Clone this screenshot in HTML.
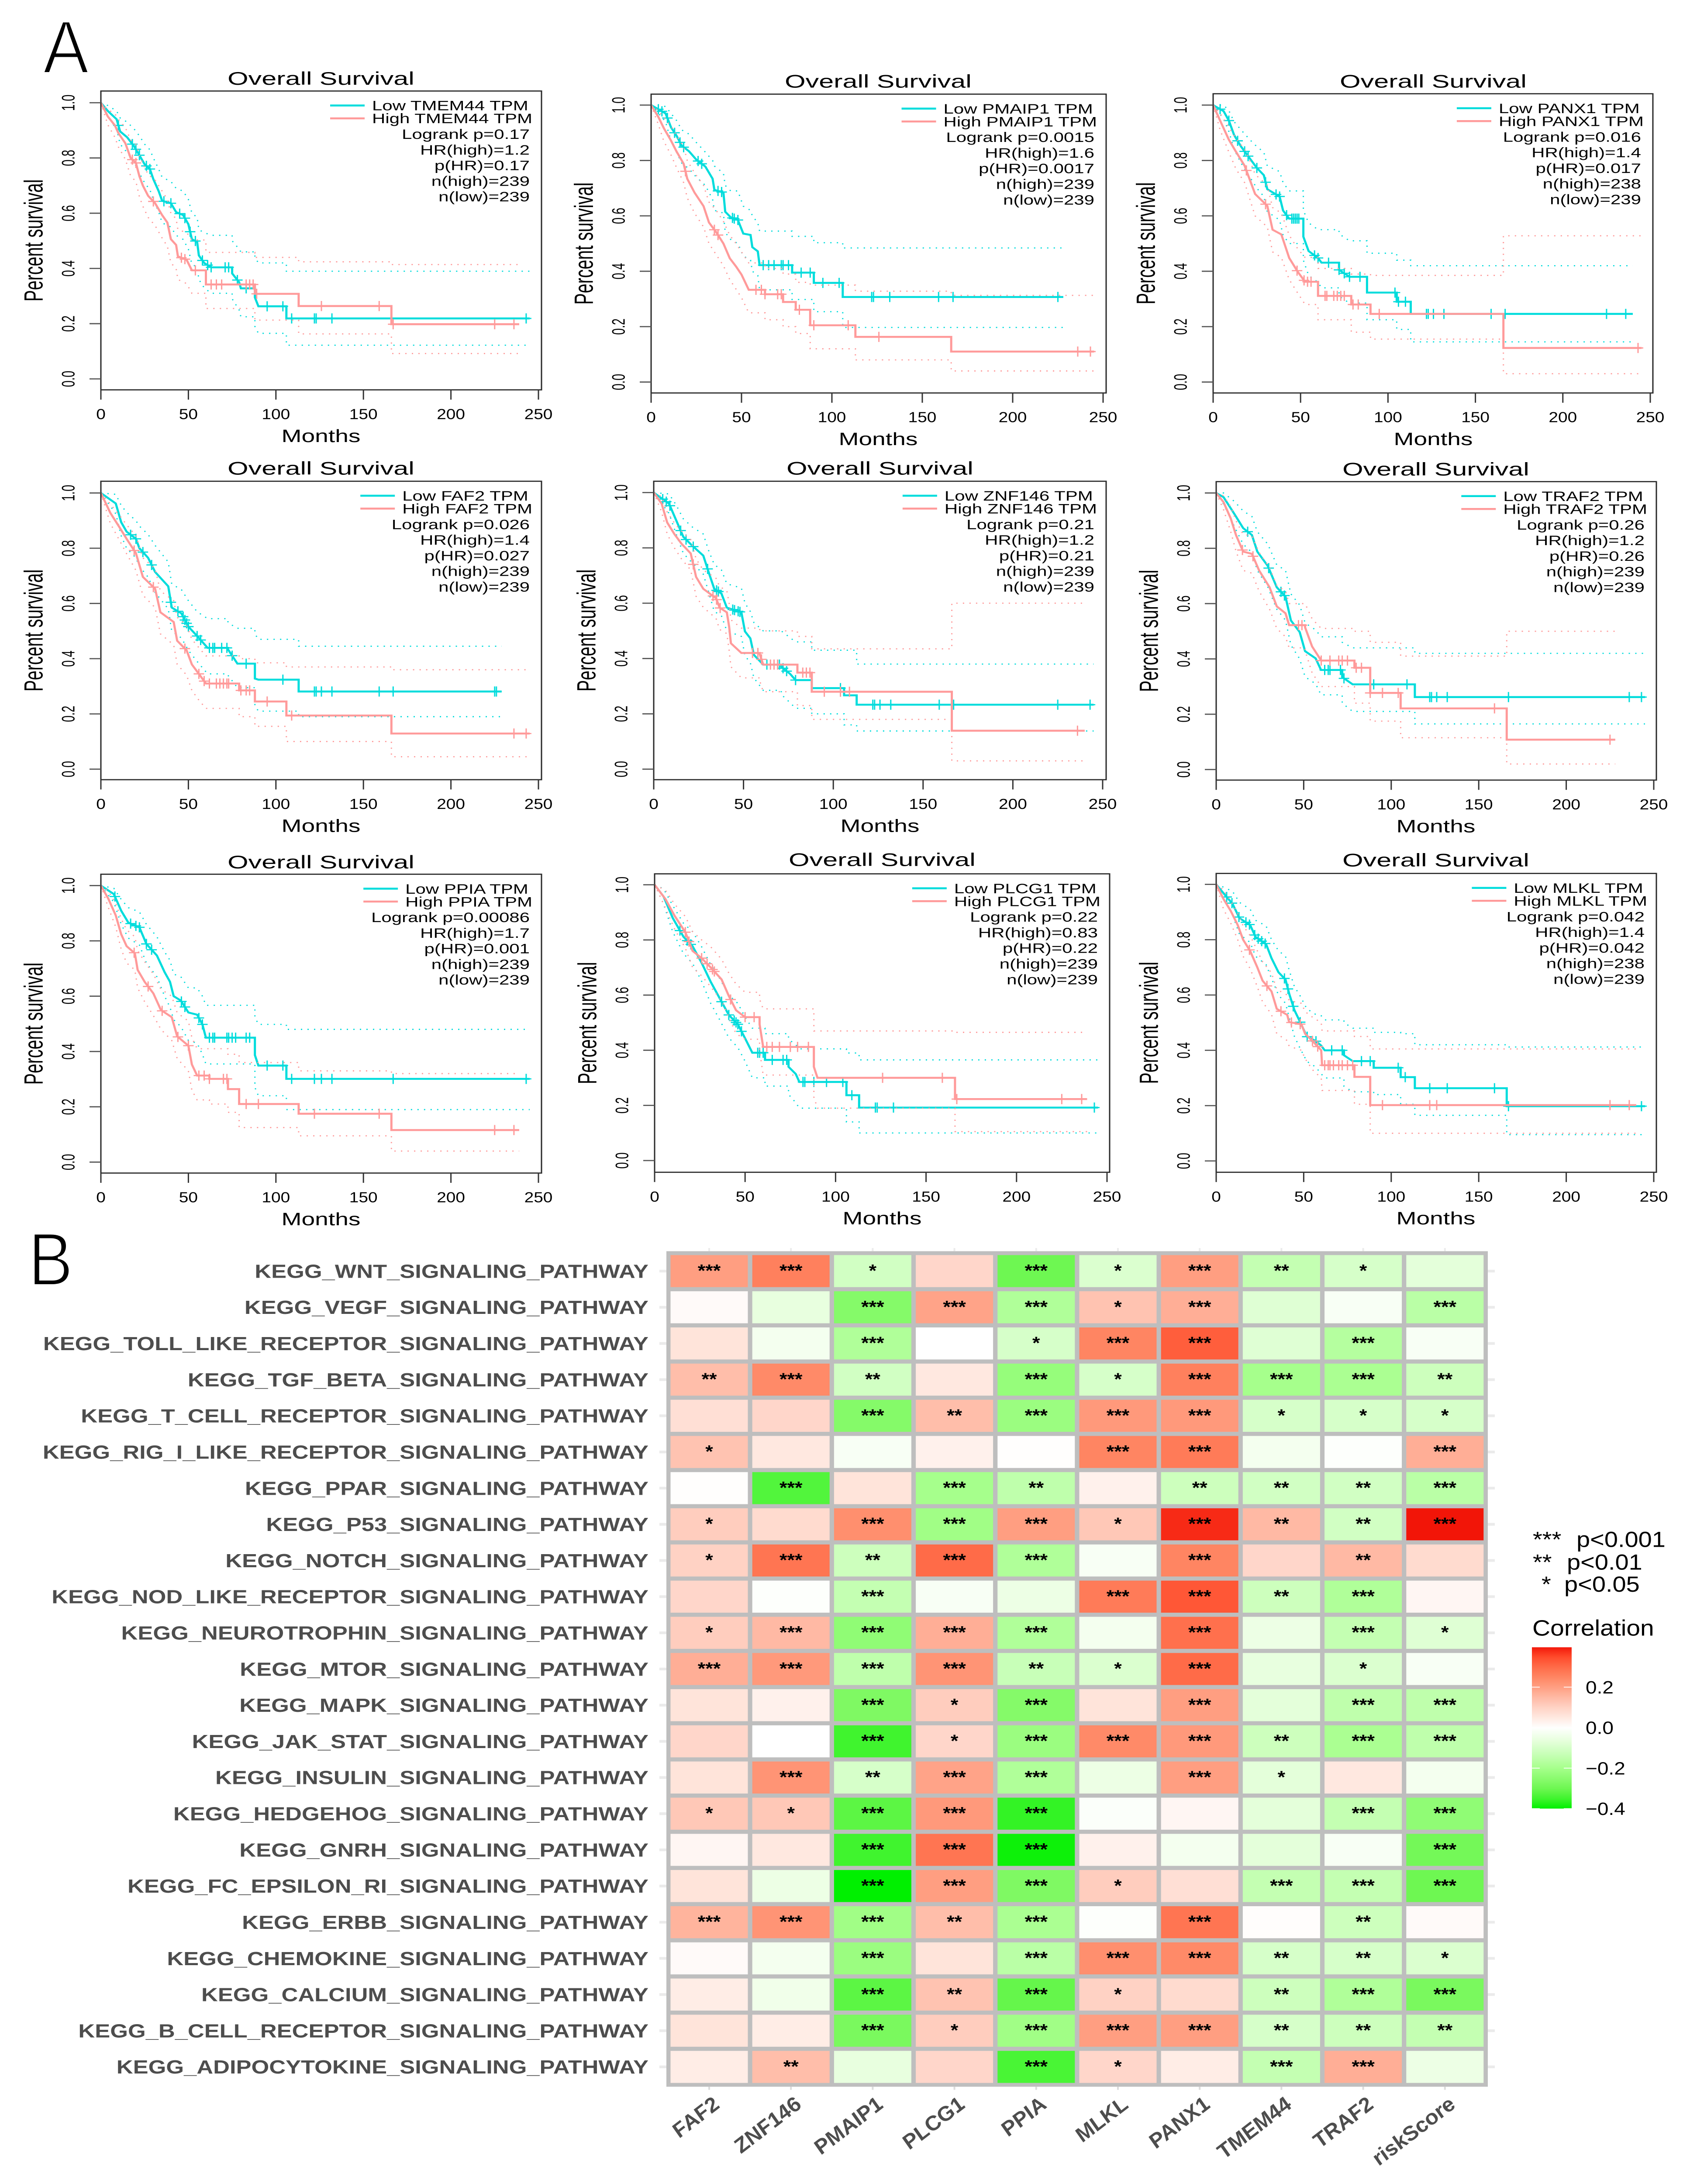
<!DOCTYPE html>
<html lang="en">
<head>
<meta charset="utf-8">
<title>Survival curves and pathway correlation heatmap</title>
<style>
html,body{margin:0;padding:0;background:#fff;width:100%;height:100%;overflow:hidden}
svg{display:block;width:100%;height:100%;font-family:"Liberation Sans",sans-serif}
</style>
</head>
<body>
<svg id="fig" xmlns="http://www.w3.org/2000/svg" viewBox="0 0 3870 5591" preserveAspectRatio="none">
  <rect width="3870" height="5591" fill="#fff"/>
  <g id="panelA"></g>
  <g id="panelB"></g>
</svg>
<script>
/* ---------- survival data ---------- */
const geneNames = ["TMEM44","PMAIP1","PANX1","FAF2","ZNF146","TRAF2","PPIA","PLCG1","MLKL"];
const logrankP = ["0.17","0.0015","0.016","0.026","0.21","0.26","0.00086","0.22","0.042"];
const hrHigh = ["1.2","1.6","1.4","1.4","1.2","1.2","1.7","0.83","1.4"];
const pHr = ["0.17","0.0017","0.017","0.027","0.21","0.26","0.001","0.22","0.042"];
const nHigh = ["239","239","238","239","239","239","239","239","238"];
const nLow = ["239","239","239","239","239","239","239","239","239"];
const xTickValues = [0,50,100,150,200,250];
const yTickValues = [0,0.2,0.4,0.6,0.8,1];

const tmem44LowT=[0,4,9,11,15,19,22,25,28,30,33,35,40,43,47,50,52,55,56,59,63,75,79,80,88,90,106,245];
const tmem44LowS=[1,.97,.94,.896,.875,.842,.81,.777,.76,.723,.68,.645,.636,.604,.593,.56,.506,.496,.447,.42,.404,.382,.35,.328,.295,.263,.219,.219];
const tmem44LowU=[1,.99,.97,.945,.93,.905,.88,.85,.83,.80,.76,.73,.715,.69,.68,.65,.60,.585,.54,.53,.52,.50,.47,.46,.44,.42,.39,.39];
const tmem44LowL=[1,.95,.905,.85,.82,.785,.745,.71,.685,.65,.605,.565,.55,.52,.505,.47,.415,.405,.36,.33,.31,.29,.25,.225,.19,.165,.122,.122];
const tmem44LowC=[10,18,20,22,26,28,36,40,45,48,51,54,58,61,63,71,73,78,83,95,104,109,122,123,132,243];
const tmem44HighT=[0,4,8,10,14,17,20,22,24,27,31,35,38,40,43,44,49,52,60,88,113,166,239];
const tmem44HighS=[1,.95,.918,.89,.853,.80,.782,.734,.70,.663,.636,.593,.566,.506,.485,.444,.431,.393,.342,.308,.264,.198,.198];
const tmem44HighU=[1,.975,.96,.94,.91,.865,.85,.81,.78,.74,.72,.68,.65,.60,.58,.54,.53,.503,.458,.44,.424,.414,.414];
const tmem44HighL=[1,.92,.875,.84,.795,.735,.715,.66,.625,.585,.555,.51,.48,.42,.40,.36,.345,.31,.255,.213,.163,.092,.092];
const tmem44HighC=[18,20,30,46,48,54,63,66,69,83,85,87,89,126,159,167,225,236];

const pmaip1LowT=[0,8,11,14,17,21,25,30,34,35,40,41,44,48,51,55,56,59,60,78,90,106,228];
const pmaip1LowS=[1,.97,.92,.89,.853,.833,.803,.778,.734,.694,.684,.615,.595,.585,.536,.531,.487,.472,.422,.395,.358,.307,.307];
const pmaip1LowU=[1,.995,.97,.945,.91,.895,.865,.83,.80,.78,.754,.71,.69,.69,.635,.62,.60,.575,.545,.526,.503,.484,.484];
const pmaip1LowL=[1,.94,.87,.83,.79,.77,.74,.71,.66,.62,.61,.54,.515,.50,.455,.44,.40,.385,.333,.298,.254,.197,.197];
const pmaip1LowC=[4,6,9,13,16,18,26,28,37,39,45,46,48,62,65,68,72,73,76,83,88,95,104,122,123,132,159,167,225];
const pmaip1HighT=[0,4,7,11,14,18,20,24,29,32,36,40,43.5,47,50,54,63,73,80,88,113,166,245];
const pmaip1HighS=[1,.957,.917,.872,.833,.788,.734,.684,.635,.576,.541,.50,.447,.417,.388,.333,.317,.289,.261,.205,.163,.11,.11];
const pmaip1HighU=[1,.98,.955,.925,.89,.85,.80,.755,.71,.65,.62,.58,.53,.50,.47,.43,.41,.39,.36,.35,.328,.313,.313];
const pmaip1HighL=[1,.93,.87,.82,.775,.72,.665,.61,.56,.50,.46,.42,.37,.335,.305,.25,.225,.20,.175,.12,.08,.04,.04];
const pmaip1HighC=[19,35,37,58,61,63,70,72,82,90,109,126,236,243];

const panx1LowT=[0,6,9,12,16,21,25,29,31,38,40,43.5,51.6,54.6,60,62,72,78,88,105,113,240];
const panx1LowS=[1,.978,.944,.892,.85,.807,.773,.747,.696,.67,.619,.59,.525,.473,.448,.431,.405,.38,.323,.29,.246,.246];
const panx1LowU=[1,1,.98,.94,.91,.875,.85,.83,.78,.76,.72,.69,.62,.575,.55,.55,.535,.51,.465,.44,.42,.42];
const panx1LowL=[1,.95,.905,.84,.79,.74,.70,.67,.615,.585,.53,.50,.44,.385,.36,.34,.31,.285,.225,.19,.145,.145];
const panx1LowC=[4,9,14,18,20,25,30,36,38,42,45,46,47,48,49,58,60,66,72,75,78,84,104,106,110,122,123,126,132,159,167,225,236];
const panx1HighT=[0,4,9,13,18,21,24,31,34,39,43.5,48.5,52.6,60,79,90,166,245];
const panx1HighS=[1,.944,.875,.832,.781,.73,.679,.636,.55,.533,.448,.397,.362,.311,.28,.246,.123,.123];
const panx1HighU=[1,.97,.92,.88,.84,.80,.75,.71,.63,.61,.53,.48,.45,.41,.39,.385,.528,.528];
const panx1HighL=[1,.91,.83,.77,.72,.66,.60,.56,.47,.45,.37,.32,.28,.225,.18,.155,.03,.03];
const panx1HighC=[19,30,48,52,54,56,64,65,69,71,73,75,80,83,95,243];

const faf2LowT=[0,8.5,11.6,14.7,20,22,27,31,38.5,40.5,46,50,55,61,72.6,78,88,90,113,229];
const faf2LowS=[1,.962,.894,.86,.834,.80,.765,.714,.662,.585,.564,.516,.482,.439,.434,.382,.328,.324,.281,.281];
const faf2LowU=[1,.995,.955,.93,.90,.88,.85,.81,.75,.67,.65,.61,.57,.545,.53,.51,.49,.47,.445,.445];
const faf2LowL=[1,.925,.845,.80,.765,.735,.695,.64,.58,.50,.475,.43,.39,.345,.34,.295,.23,.21,.19,.19];
const faf2LowC=[17,20,24,29,40,44,47,48,49,50,55,57,62,64,65,69,72,75,83,104,122,123,126,132,159,167,225,226];
const faf2HighT=[0,5.4,10.5,14.7,20,24,31,34,41.6,43.6,49,52,56,60,79,88,106,166,245];
const faf2HighS=[1,.928,.877,.834,.782,.696,.653,.568,.533,.465,.43,.379,.345,.31,.285,.245,.194,.129,.129];
const faf2HighU=[1,.96,.92,.885,.845,.765,.725,.645,.61,.55,.52,.47,.44,.41,.40,.385,.37,.36,.36];
const faf2HighL=[1,.89,.83,.78,.72,.63,.585,.49,.45,.38,.34,.285,.25,.22,.19,.155,.10,.045,.045];
const faf2HighC=[19,30,48,56,59,62,66,68,70,72,73,80,83,85,95,109,236,243];

const znf146LowT=[0,8.5,12.5,16.5,21.6,27.6,30.6,33.7,37.7,40.7,48.8,50.8,53.8,55.8,61,71,76,79,88,106,113,245];
const znf146LowS=[1,.96,.90,.84,.807,.772,.712,.652,.635,.584,.567,.498,.473,.413,.378,.37,.344,.322,.293,.267,.233,.233];
const znf146LowU=[1,.995,.955,.905,.875,.85,.79,.74,.72,.67,.655,.60,.57,.53,.50,.50,.475,.46,.43,.43,.38,.38];
const znf146LowL=[1,.925,.85,.78,.745,.705,.64,.57,.555,.50,.48,.41,.385,.33,.285,.27,.24,.22,.2,.16,.138,.138];
const znf146LowC=[5,7,9,15,18,22,30,35,36,44,45,47,48,63,70,72,74,79,104,122,123,126,132,159,167,225,243];
const znf146HighT=[0,4.4,7.5,11.5,15.5,20.6,23.6,27.6,34.7,36.7,40.7,42,43,48.8,59,61,80,88,166,240];
const znf146HighS=[1,.96,.892,.85,.815,.78,.695,.652,.618,.584,.567,.515,.455,.42,.416,.378,.349,.28,.139,.139];
const znf146HighU=[1,.985,.93,.89,.86,.83,.76,.72,.69,.66,.645,.60,.54,.51,.505,.50,.48,.435,.60,.60];
const znf146HighL=[1,.93,.85,.80,.76,.72,.625,.585,.545,.505,.49,.43,.37,.33,.32,.28,.23,.18,.03,.03];
const znf146HighC=[22,33,35,37,55,58,60,65,67,69,83,85,87,95,104,109,236];

const traf2LowT=[0,4.2,10.3,15.4,20.4,23.5,29.5,34.6,39.6,42.7,47.7,50.8,56.8,59.9,72,78,113.5,245];
const traf2LowS=[1,.985,.925,.873,.848,.788,.736,.659,.625,.539,.497,.428,.402,.36,.334,.308,.262,.262];
const traf2LowU=[1,1,.97,.935,.915,.86,.815,.74,.72,.635,.595,.53,.505,.48,.46,.44,.42,.42];
const traf2LowL=[1,.96,.88,.815,.785,.72,.66,.58,.54,.45,.40,.335,.31,.27,.24,.21,.165,.165];
const traf2LowC=[18,30,37,39,62,64,65,71,73,90,109,122,123,126,132,167,236,243];
const traf2HighT=[0,4.2,8.3,11.3,15.4,20.4,24.5,30.5,34.6,39.6,41.7,50.8,54.8,60,79,88,105.4,166,228];
const traf2HighS=[1,.967,.908,.848,.788,.78,.72,.659,.59,.565,.522,.514,.445,.394,.368,.277,.221,.108,.108];
const traf2HighU=[1,.99,.95,.90,.85,.845,.785,.73,.665,.645,.60,.60,.545,.51,.50,.46,.41,.50,.50];
const traf2HighL=[1,.94,.86,.79,.72,.71,.645,.58,.51,.48,.44,.43,.35,.30,.24,.175,.115,.02,.02];
const traf2HighC=[15,21,47,49,60,65,70,72,75,80,83,88,95,104,159,225];

const ppiaLowT=[0,7.4,11.6,15.7,22,26,32,36.4,39.5,41.6,45.7,50,55,58,60,88,90,106,245];
const ppiaLowS=[1,.969,.909,.866,.849,.789,.747,.687,.652,.60,.584,.541,.533,.498,.45,.387,.349,.301,.301];
const ppiaLowU=[1,.99,.95,.92,.905,.86,.815,.76,.73,.68,.67,.63,.63,.60,.567,.525,.498,.48,.48];
const ppiaLowL=[1,.94,.86,.81,.785,.72,.67,.60,.56,.515,.49,.44,.43,.39,.355,.27,.24,.19,.19];
const ppiaLowC=[8,17,20,22,26,29,46,48,56,58,62,64,65,72,73,75,77,83,85,95,104,109,122,126,132,167,243];
const ppiaHighT=[0,4.3,8.5,11.6,14.7,19.4,21,25,30,34.3,40.5,43.6,50,52,55,62,72.6,79,113,166,239];
const ppiaHighS=[1,.952,.892,.824,.781,.755,.695,.652,.61,.55,.524,.455,.421,.353,.313,.301,.264,.21,.175,.116,.116];
const ppiaHighU=[1,.98,.935,.88,.84,.815,.765,.725,.68,.625,.60,.54,.51,.45,.41,.41,.39,.36,.33,.32,.32];
const ppiaHighL=[1,.92,.85,.77,.72,.695,.63,.58,.53,.48,.44,.375,.33,.26,.225,.21,.18,.125,.095,.04,.04];
const ppiaHighC=[19,27,35,44,50,56,59,62,70,72,83,90,122,159,225,236];

const plcg1LowT=[0,5,10,16,21,26,31,36,41,46,50,54,61,74,78,80,106,113,245];
const plcg1LowS=[1,.957,.88,.811,.777,.717,.648,.588,.528,.494,.443,.391,.365,.34,.314,.285,.237,.192,.192];
const plcg1LowU=[1,.985,.925,.86,.83,.775,.71,.66,.60,.57,.52,.48,.46,.44,.42,.405,.39,.365,.365];
const plcg1LowL=[1,.93,.83,.75,.715,.65,.57,.51,.445,.41,.36,.30,.27,.24,.21,.19,.14,.10,.10];
const plcg1LowC=[14,18,20,37,41,44,45,46,48,57,58,60,65,71,73,82,83,88,95,104,109,122,123,132,243];
const plcg1HighT=[0,6,11,17,21,26,31,37,41,45,50,58,60,88,90,166,239];
const plcg1HighS=[1,.948,.888,.828,.76,.734,.70,.657,.597,.545,.52,.494,.412,.34,.30,.223,.223];
const plcg1HighU=[1,.98,.93,.885,.83,.80,.775,.73,.68,.64,.61,.585,.55,.47,.47,.465,.465];
const plcg1HighL=[1,.915,.84,.77,.70,.67,.63,.58,.52,.46,.44,.40,.31,.23,.19,.105,.105];
const plcg1HighC=[17,19,26,29,32,33,42,50,55,62,65,69,75,79,85,126,159,167,225,236];

const mlklLowT=[0,4.2,9.3,13.3,19.4,22.5,28.5,31.6,35.6,39.6,41.7,44.7,47.7,51.8,56.8,60,62,73,78,90,105.4,113.5,166,245];
const mlklLowS=[1,.968,.93,.878,.853,.81,.784,.733,.682,.656,.605,.545,.506,.45,.434,.417,.40,.382,.361,.337,.303,.263,.198,.198];
const mlklLowU=[1,.99,.975,.935,.91,.87,.85,.80,.76,.74,.69,.63,.60,.55,.53,.525,.51,.50,.48,.465,.46,.42,.412,.412];
const mlklLowL=[1,.95,.89,.82,.79,.74,.71,.66,.60,.57,.52,.45,.41,.36,.34,.315,.30,.27,.25,.24,.205,.165,.095,.095];
const mlklLowC=[6,9,13,17,19,22,24,26,28,39,41,44,48,52,57,66,72,83,88,104,108,122,132,159,167,243];
const mlklHighT=[0,4.2,8.3,12.3,15.4,19.4,23.5,26.5,31.6,34.6,40.6,41.7,48.7,50.8,55,60,60.5,79,88,240];
const mlklHighS=[1,.947,.904,.853,.80,.759,.70,.652,.613,.55,.528,.502,.494,.46,.434,.40,.346,.304,.202,.202];
const mlklHighU=[1,.98,.94,.895,.85,.815,.76,.72,.68,.62,.60,.58,.57,.54,.52,.50,.47,.45,.405,.405];
const mlklHighL=[1,.91,.86,.80,.74,.695,.63,.575,.53,.46,.435,.415,.40,.37,.33,.30,.255,.205,.10,.10];
const mlklHighC=[19,29,37,43,48,55,58,62,64,65,67,70,72,75,78,95,122,126,225,236];

/* ---------- heatmap data ---------- */
const pathwayNames = ["KEGG_WNT_SIGNALING_PATHWAY","KEGG_VEGF_SIGNALING_PATHWAY","KEGG_TOLL_LIKE_RECEPTOR_SIGNALING_PATHWAY","KEGG_TGF_BETA_SIGNALING_PATHWAY","KEGG_T_CELL_RECEPTOR_SIGNALING_PATHWAY","KEGG_RIG_I_LIKE_RECEPTOR_SIGNALING_PATHWAY","KEGG_PPAR_SIGNALING_PATHWAY","KEGG_P53_SIGNALING_PATHWAY","KEGG_NOTCH_SIGNALING_PATHWAY","KEGG_NOD_LIKE_RECEPTOR_SIGNALING_PATHWAY","KEGG_NEUROTROPHIN_SIGNALING_PATHWAY","KEGG_MTOR_SIGNALING_PATHWAY","KEGG_MAPK_SIGNALING_PATHWAY","KEGG_JAK_STAT_SIGNALING_PATHWAY","KEGG_INSULIN_SIGNALING_PATHWAY","KEGG_HEDGEHOG_SIGNALING_PATHWAY","KEGG_GNRH_SIGNALING_PATHWAY","KEGG_FC_EPSILON_RI_SIGNALING_PATHWAY","KEGG_ERBB_SIGNALING_PATHWAY","KEGG_CHEMOKINE_SIGNALING_PATHWAY","KEGG_CALCIUM_SIGNALING_PATHWAY","KEGG_B_CELL_RECEPTOR_SIGNALING_PATHWAY","KEGG_ADIPOCYTOKINE_SIGNALING_PATHWAY"];
const heatmapColumns = ["FAF2","ZNF146","PMAIP1","PLCG1","PPIA","MLKL","PANX1","TMEM44","TRAF2","riskScore"];
const correlationValues = [
[.2,.26,-.11,.09,-.3,-.09,.2,-.14,-.1,-.07],
[.01,-.06,-.26,.19,-.18,.13,.17,-.08,-.02,-.16],
[.06,-.03,-.18,0,-.1,.25,.32,-.08,-.17,-.02],
[.14,.24,-.11,.05,-.23,-.1,.26,-.2,-.19,-.12],
[.07,.09,-.26,.14,-.22,.21,.21,-.1,-.1,-.1],
[.13,.05,-.02,.03,.003,.25,.27,-.03,-.005,.17],
[.003,-.33,.06,-.2,-.15,.03,-.12,-.11,-.11,-.16],
[.11,.08,.23,-.21,.2,.12,.38,.15,-.11,.4],
[.1,.28,-.12,.3,-.18,-.02,.25,.09,.15,.08],
[.09,-.005,-.14,-.02,-.05,.27,.33,-.12,-.18,.02],
[.11,.15,-.24,.17,-.18,-.03,.29,-.05,-.14,-.08],
[.17,.21,-.15,.22,-.13,-.09,.3,-.06,-.09,-.02],
[.06,.03,-.27,.11,-.26,.06,.2,-.07,-.15,-.15],
[.09,0,-.35,.09,-.22,.24,.21,-.12,-.19,-.15],
[.06,.22,-.1,.19,-.18,-.05,.2,-.07,.05,-.03],
[.12,.12,-.32,.21,-.36,-.01,.02,-.07,-.14,-.24],
[.02,.05,-.35,.28,-.39,.03,-.03,-.07,-.02,-.29],
[.06,-.05,-.41,.2,-.27,.11,.07,-.14,-.14,-.3],
[.16,.22,-.21,.14,-.19,-.005,.28,.005,-.12,.01],
[.01,-.03,-.22,.06,-.16,.23,.24,-.1,-.1,-.09],
[.04,-.04,-.32,.13,-.31,.1,.08,-.12,-.18,-.28],
[.06,.04,-.28,.11,-.21,.2,.2,-.1,-.12,-.14],
[.04,.14,-.06,.09,-.34,.09,.04,-.14,.17,-.05]];
const significanceStars = [
[3,3,1,0,3,1,3,2,1,0],
[0,0,3,3,3,1,3,0,0,3],
[0,0,3,0,1,3,3,0,3,0],
[2,3,2,0,3,1,3,3,3,2],
[0,0,3,2,3,3,3,1,1,1],
[1,0,0,0,0,3,3,0,0,3],
[0,3,0,3,2,0,2,2,2,3],
[1,0,3,3,3,1,3,2,2,3],
[1,3,2,3,3,0,3,0,2,0],
[0,0,3,0,0,3,3,2,3,0],
[1,3,3,3,3,0,3,0,3,1],
[3,3,3,3,2,1,3,0,1,0],
[0,0,3,1,3,0,3,0,3,3],
[0,0,3,1,3,3,3,2,3,3],
[0,3,2,3,3,0,3,1,0,0],
[1,1,3,3,3,0,0,0,3,3],
[0,0,3,3,3,0,0,0,0,3],
[0,0,3,3,3,1,0,3,3,3],
[3,3,3,2,3,0,3,0,2,0],
[0,0,3,0,3,3,3,2,2,1],
[0,0,3,2,3,1,0,2,3,3],
[0,0,3,1,3,3,3,2,2,2],
[0,2,0,0,3,1,0,3,3,0]];
const colorbarTicks = [0.2,0,-0.2,-0.4];
const significanceLegend = ["p<0.001","p<0.01","p<0.05"];

/* ---------- wiring ---------- */
const lowSeries = [
 [tmem44LowT,tmem44LowS,tmem44LowU,tmem44LowL,tmem44LowC],[pmaip1LowT,pmaip1LowS,pmaip1LowU,pmaip1LowL,pmaip1LowC],[panx1LowT,panx1LowS,panx1LowU,panx1LowL,panx1LowC],
 [faf2LowT,faf2LowS,faf2LowU,faf2LowL,faf2LowC],[znf146LowT,znf146LowS,znf146LowU,znf146LowL,znf146LowC],[traf2LowT,traf2LowS,traf2LowU,traf2LowL,traf2LowC],
 [ppiaLowT,ppiaLowS,ppiaLowU,ppiaLowL,ppiaLowC],[plcg1LowT,plcg1LowS,plcg1LowU,plcg1LowL,plcg1LowC],[mlklLowT,mlklLowS,mlklLowU,mlklLowL,mlklLowC]];
const highSeries = [
 [tmem44HighT,tmem44HighS,tmem44HighU,tmem44HighL,tmem44HighC],[pmaip1HighT,pmaip1HighS,pmaip1HighU,pmaip1HighL,pmaip1HighC],[panx1HighT,panx1HighS,panx1HighU,panx1HighL,panx1HighC],
 [faf2HighT,faf2HighS,faf2HighU,faf2HighL,faf2HighC],[znf146HighT,znf146HighS,znf146HighU,znf146HighL,znf146HighC],[traf2HighT,traf2HighS,traf2HighU,traf2HighL,traf2HighC],
 [ppiaHighT,ppiaHighS,ppiaHighU,ppiaHighL,ppiaHighC],[plcg1HighT,plcg1HighS,plcg1HighU,plcg1HighL,plcg1HighC],[mlklHighT,mlklHighS,mlklHighU,mlklHighL,mlklHighC]];

/* layout of each plot frame on the page */
const frames = [
 {l:231,r:1240,t:233,b:998,x250:1233,y1:263,y0:970,tx:735,ty:200},
 {l:1491,r:2533,t:241,b:1006,x250:2526,y1:269,y0:978,tx:2011,ty:207},
 {l:2778,r:3785,t:240,b:1006,x250:3779,y1:269,y0:978,tx:3282,ty:207},
 {l:231,r:1240,t:1232,b:1996,x250:1233,y1:1262,y0:1969,tx:735,ty:1198},
 {l:1497,r:2533,t:1232,b:1996,x250:2525,y1:1261,y0:1969,tx:2015,ty:1198},
 {l:2785,r:3793,t:1233,b:1997,x250:3787,y1:1262,y0:1970,tx:3288,ty:1200},
 {l:231,r:1240,t:2238,b:3003,x250:1233,y1:2267,y0:2975,tx:735,ty:2206},
 {l:1499,r:2541,t:2237,b:3001,x250:2535,y1:2265,y0:2971,tx:2020,ty:2200},
 {l:2785,r:3793,t:2236,b:3001,x250:3787,y1:2264,y0:2972,tx:3288,ty:2201}];

const NS = "http://www.w3.org/2000/svg";
const LOW_COLOR = "#00dcdc", HIGH_COLOR = "#ff9a9a";
/* the early descent and short gaps are many tiny steps in the source: trace them directly */
const TRACE_GAP = 6;
const TRACE_UNTIL = 50;

function isTraced(T, i){
  return T[i] - T[i-1] <= TRACE_GAP || T[i] <= TRACE_UNTIL;
}
function mk(tag, parent, attrs){
  const e = document.createElementNS(NS, tag);
  for (const k in attrs) e.setAttribute(k, attrs[k]);
  parent.appendChild(e);
  return e;
}
function txt(parent, str, x, y, o){
  o = o || {};
  const sx = o.sx || 1, rot = o.rot || 0;
  const e = mk("text", parent, {
    transform: "translate("+x+" "+y+") scale("+sx+" 1)"+(rot ? " rotate("+rot+")" : ""),
    "font-size": o.size || 40,
    "text-anchor": o.anchor || "middle",
    fill: o.fill || "#000"
  });
  if (o.dy) e.setAttribute("dy", o.dy);
  if (o.weight) e.setAttribute("font-weight", o.weight);
  if (o.style) e.setAttribute("font-style", o.style);
  e.textContent = str;
  return e;
}
function curvePath(T, V, xs, ys){
  let d = "M" + xs(T[0]).toFixed(1) + " " + ys(V[0]).toFixed(1);
  for (let i = 1; i < T.length; i++){
    if (isTraced(T, i)){
      d += "L" + xs(T[i]).toFixed(1) + " " + ys(V[i]).toFixed(1);
    } else {
      d += "H" + xs(T[i]).toFixed(1) + "V" + ys(V[i]).toFixed(1);
    }
  }
  return d;
}
function curveValue(T, S, m){
  for (let i = 1; i < T.length; i++){
    if (m < T[i]){
      if (isTraced(T, i)){
        return S[i-1] + (S[i] - S[i-1]) * (m - T[i-1]) / (T[i] - T[i-1]);
      }
      return S[i-1];
    }
  }
  return S[S.length-1];
}

const panelA = document.getElementById("panelA");
const panelB = document.getElementById("panelB");

const labelA = txt(panelA, "A", 151, 187, {size:192, sx:.82});
labelA.setAttribute("stroke", "#fff");
labelA.setAttribute("stroke-width", "5");



function drawCurve(g, series, color, xs, ys){
  const T = series[0], S = series[1], U = series[2], L = series[3], C = series[4];
  const up = mk("path", g, {d:curvePath(T,U,xs,ys), fill:"none", stroke:color, "stroke-width":3, "stroke-dasharray":"3 12"});
  
  
  const lo = mk("path", g, {d:curvePath(T,L,xs,ys), fill:"none", stroke:color, "stroke-width":3, "stroke-dasharray":"3 12"});
  
  
  const main = mk("path", g, {d:curvePath(T,S,xs,ys), fill:"none", stroke:color, "stroke-width":5});
  
  
  C.forEach(function(m){
    const cx = xs(m), cy = ys(curveValue(T,S,m));
    const mark = mk("path", g, {d:"M"+cx.toFixed(1)+" "+(cy-13).toFixed(1)+"v26M"+(cx-12).toFixed(1)+" "+cy.toFixed(1)+"h24", fill:"none", stroke:color, "stroke-width":3});
    
    
  });
}

geneNames.forEach(function(gene, i){
  const f = frames[i];
  const xs = function(m){ return f.l + m * (f.x250 - f.l) / 250; };
  const ys = function(v){ return f.y0 + v * (f.y1 - f.y0); };
  const g = mk("g", panelA, {});
  
  

  const title = txt(g, "Overall Survival", f.tx, f.ty, {size:47, sx:1.3, dy:".36em"});
  
  

  drawCurve(g, lowSeries[i], LOW_COLOR, xs, ys);
  drawCurve(g, highSeries[i], HIGH_COLOR, xs, ys);

  const box = mk("rect", g, {x:f.l, y:f.t, width:f.r-f.l, height:f.b-f.t, fill:"none", stroke:"#2a2a2a", "stroke-width":3});
  
  

  xTickValues.forEach(function(v){
    const tk = mk("line", g, {x1:xs(v), x2:xs(v), y1:f.b, y2:f.b+25, stroke:"#333", "stroke-width":3});
    
    
    const lb = txt(g, String(v), xs(v), f.b+62, {size:37, sx:1.05, dy:".35em"});
    
    
  });
  yTickValues.forEach(function(v){
    const tk = mk("line", g, {x1:f.l-26, x2:f.l, y1:ys(v), y2:ys(v), stroke:"#555", "stroke-width":3});
    
    
    const lb = txt(g, v.toFixed(1), f.l-75, ys(v), {size:30, sx:1.4, rot:-90, dy:".35em"});
    
    
  });

  const xt = txt(g, "Months", f.tx, f.b+117, {size:46, sx:1.2, dy:".36em"});
  
  
  const yt = txt(g, "Percent survival", f.l-155, (f.t+f.b)/2, {size:44, sx:1.36, rot:-90, dy:".36em"});
  
  

  /* legend */
  const hiText = txt(g, "High " + gene + " TPM", f.r-21, f.t+70, {size:35, sx:1.2, anchor:"end", dy:".36em"});
  
  
  const width = hiText.getComputedTextLength() * 1.2;
  const left = f.r - 21 - width;
  const loText = txt(g, "Low " + gene + " TPM", left, f.t+37, {size:35, sx:1.2, anchor:"start", dy:".36em"});
  
  
  const loLine = mk("line", g, {x1:left-96, x2:left-17, y1:f.t+37, y2:f.t+37, stroke:LOW_COLOR, "stroke-width":5});
  
  
  const hiLine = mk("line", g, {x1:left-96, x2:left-17, y1:f.t+70, y2:f.t+70, stroke:HIGH_COLOR, "stroke-width":5});
  
  

  const stats = ["Logrank p="+logrankP[i], "HR(high)="+hrHigh[i], "p(HR)="+pHr[i], "n(high)="+nHigh[i], "n(low)="+nLow[i]];
  stats.forEach(function(s, k){
    const st = txt(g, s, f.r-27, f.t+110+k*40, {size:35, sx:1.2, anchor:"end", dy:".36em"});
    
    
  });
});

/* ---------- heatmap ---------- */
const labelB = txt(panelB, "B", 116, 3290, {size:192, sx:.8});
labelB.setAttribute("stroke", "#fff");
labelB.setAttribute("stroke-width", "5");



const redStops = ["#ffffff","#ffe8e0","#ffd2c4","#ffb9a4","#ff9e81","#ff8562","#ff6b48","#ff4a2a","#f21508"];
const greenStops = ["#ffffff","#edffe5","#d6ffc9","#bfffac","#a6ff8c","#8bfb6f","#6ef752","#40f42e","#00f000"];
function hexRgb(h){ return [parseInt(h.slice(1,3),16),parseInt(h.slice(3,5),16),parseInt(h.slice(5,7),16)]; }
function fillFor(v){
  const stops = v >= 0 ? redStops : greenStops;
  const p = Math.min(Math.abs(v) / 0.4, 1) * (stops.length - 1);
  const i = Math.min(Math.floor(p), stops.length - 2), t = p - i;
  const a = hexRgb(stops[i]), b = hexRgb(stops[i+1]);
  return "rgb(" + a.map(function(c,k){ return Math.round(c + (b[k]-c)*t); }).join(",") + ")";
}
const colX = function(c){ return 1624 + c * 187.2; };
const rowY = function(r){ return 3254 + r * 92.6; };
const cellW = 177, cellH = 82;

const hm = mk("g", panelB, {});


const hmBg = mk("rect", hm, {x:1526, y:3203, width:1881, height:2139, fill:"#bebebe"});



pathwayNames.forEach(function(name, r){
  const tl = mk("line", hm, {x1:1510, x2:1526, y1:rowY(r), y2:rowY(r), stroke:"#ebebeb", "stroke-width":7});
  
  
  const tr = mk("line", hm, {x1:3407, x2:3423, y1:rowY(r), y2:rowY(r), stroke:"#ebebeb", "stroke-width":7});
  
  
  const lb = txt(hm, name, 1485, rowY(r), {size:49, sx:1.07, anchor:"end", fill:"#4d4d4d", weight:"bold", dy:".35em"});
  
  
  heatmapColumns.forEach(function(col, c){
    const v = correlationValues[r][c];
    const cell = mk("rect", hm, {x:colX(c)-cellW/2, y:rowY(r)-cellH/2, width:cellW, height:cellH, fill:fillFor(v)});
    
    
    const n = significanceStars[r][c];
    if (n > 0){
      const st = txt(hm, "*".repeat(n), colX(c), rowY(r)+14, {size:45, weight:"bold"});
      
      
    }
  });
});
heatmapColumns.forEach(function(col, c){
  const tk = mk("line", hm, {x1:colX(c), x2:colX(c), y1:5342, y2:5350, stroke:"#dcdcdc", "stroke-width":4});
  
  
  const tt = mk("line", hm, {x1:colX(c), x2:colX(c), y1:3195, y2:3203, stroke:"#ebebeb", "stroke-width":4});
  
  
  const lb = txt(hm, col, colX(c)+16, 5379, {size:50, sx:1.05, rot:-42, anchor:"end", fill:"#4d4d4d", weight:"bold", style:"italic", dy:".35em"});
  
  
});

/* significance key */
const keyX = [3510,3510,3530];
const keyPX = [3610,3588,3582];
const keyY = [3960,4018,4075];
significanceLegend.forEach(function(s, i){
  const a = txt(panelB, "*".repeat(3-i), keyX[i], keyY[i], {size:56, anchor:"start"});
  
  
  const b = txt(panelB, s, keyPX[i], keyY[i], {size:56, anchor:"start"});
  
  
});

/* colorbar */
const cbTitle = txt(panelB, "Correlation", 3509, 4187, {size:57, anchor:"start"});


const defs = mk("defs", panelB, {});
const grad = mk("linearGradient", defs, {id:"cbGrad", x1:0, y1:0, x2:0, y2:1});
const cbTop = 0.397, cbBottom = -0.4;
const cbScale = function(v){ return 4630 + (v - cbBottom) * (4217 - 4630) / (cbTop - cbBottom); };
for (let k = 0; k <= 32; k++){
  const v = cbTop + (cbBottom - cbTop) * k / 32;
  mk("stop", grad, {offset:(k/32).toFixed(4), "stop-color":fillFor(v)});
}
const cbBar = mk("rect", panelB, {x:3508, y:4217, width:91, height:413, fill:"url(#cbGrad)"});


colorbarTicks.forEach(function(v){
  const y = cbScale(v);
  const a = mk("line", panelB, {x1:3508, x2:3526, y1:y, y2:y, stroke:"#fff", "stroke-width":2});
  
  
  const b = mk("line", panelB, {x1:3581, x2:3599, y1:y, y2:y, stroke:"#fff", "stroke-width":2});
  
  
  const lab = (v < 0 ? "\u2212" : "") + Math.abs(v).toFixed(1);
  const t = txt(panelB, lab, 3631, y, {size:46, anchor:"start", dy:".35em"});
  
  
});
</script>
</body>
</html>
